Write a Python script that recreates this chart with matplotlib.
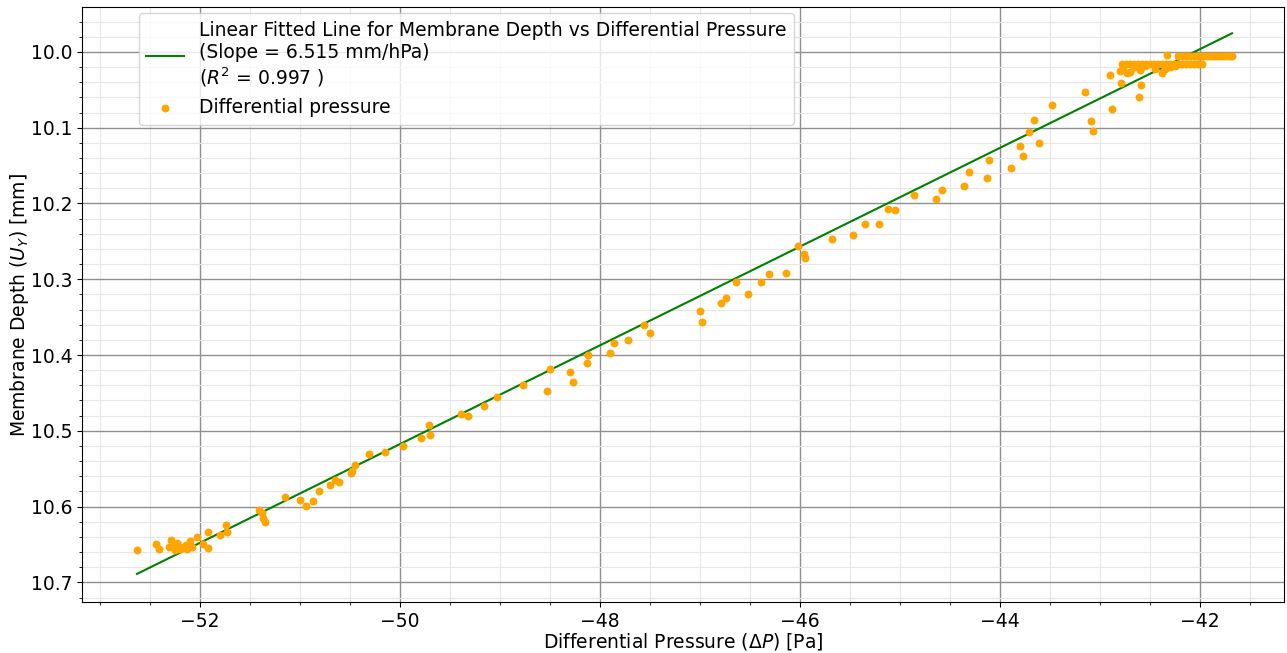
import numpy as np
import matplotlib
matplotlib.use('Agg')
import matplotlib.pyplot as plt
from matplotlib.ticker import MultipleLocator

# differential pressure [Pa] and membrane depth [mm]
dp = [-52.63, -52.44, -52.41, -52.31, -52.29, -52.27, -52.25, -52.23, -52.20, -52.17,
      -52.14, -52.13, -52.10, -52.08, -52.03, -51.97, -51.92, -51.92, -51.80, -51.74,
      -51.73, -51.41, -51.38, -51.37, -51.35, -51.15, -51.00, -50.94, -50.87, -50.81,
      -50.70, -50.65, -50.61, -50.49, -50.48, -50.45, -50.31, -50.15, -49.97, -49.79,
      -49.71, -49.70, -49.39, -49.32, -49.16, -49.03, -48.77, -48.53, -48.50, -48.30,
      -48.27, -48.12, -48.13, -47.90, -47.86, -47.72, -47.56, -47.50, -47.00, -46.98,
      -46.79, -46.74, -46.64, -46.52, -46.39, -46.31, -46.14, -46.02, -45.96, -45.95,
      -45.68, -45.47, -45.35, -45.21, -45.12, -45.05, -44.86, -44.64, -44.58, -44.36,
      -44.31, -44.13, -44.11, -43.89, -43.80, -43.77, -43.71, -43.66, -43.61, -43.48,
      -43.15, -43.09, -43.07, -42.90, -42.88, -42.80, -42.79, -42.61, -42.59]
depth = [10.657, 10.649, 10.656, 10.653, 10.644, 10.651, 10.657, 10.648, 10.656, 10.653,
         10.651, 10.656, 10.646, 10.653, 10.640, 10.649, 10.655, 10.633, 10.638, 10.624,
         10.633, 10.605, 10.609, 10.615, 10.620, 10.587, 10.591, 10.599, 10.593, 10.579,
         10.572, 10.565, 10.567, 10.556, 10.553, 10.545, 10.531, 10.528, 10.520, 10.509,
         10.493, 10.506, 10.478, 10.480, 10.467, 10.455, 10.440, 10.447, 10.418, 10.423,
         10.436, 10.400, 10.410, 10.397, 10.384, 10.380, 10.360, 10.371, 10.342, 10.356,
         10.331, 10.325, 10.304, 10.319, 10.304, 10.293, 10.292, 10.256, 10.267, 10.272,
         10.247, 10.241, 10.227, 10.227, 10.207, 10.209, 10.189, 10.194, 10.182, 10.177,
         10.158, 10.167, 10.142, 10.153, 10.124, 10.137, 10.106, 10.090, 10.120, 10.070,
         10.053, 10.091, 10.104, 10.031, 10.076, 10.025, 10.041, 10.059, 10.044]

# dense cluster near zero depth change (top right)
dp_top = [-42.33, -42.22, -42.18, -42.15, -42.12, -42.09, -42.06, -42.03, -42.00, -41.97,
          -41.94, -41.91, -41.88, -41.85, -41.82, -41.79, -41.76, -41.73, -41.70, -41.68]
depth_top = [10.004, 10.006, 10.006, 10.006, 10.006, 10.006, 10.006, 10.006, 10.006, 10.006,
             10.006, 10.006, 10.006, 10.006, 10.006, 10.006, 10.006, 10.006, 10.006, 10.006]
dp_mid = [-42.78, -42.74, -42.70, -42.66, -42.62, -42.58, -42.54, -42.50, -42.46, -42.42,
          -42.38, -42.34, -42.30, -42.26, -42.22, -42.18, -42.14, -42.10, -42.06, -42.02,
          -41.98, -42.77, -42.73, -42.70, -42.65, -42.60, -42.55, -42.45, -42.38, -42.35,
          -42.30, -42.25]
depth_mid = [10.016, 10.016, 10.016, 10.016, 10.016, 10.016, 10.016, 10.016, 10.016, 10.016,
             10.016, 10.016, 10.016, 10.016, 10.016, 10.016, 10.016, 10.016, 10.016, 10.016,
             10.016, 10.022, 10.028, 10.026, 10.020, 10.024, 10.019, 10.022, 10.028, 10.023,
             10.020, 10.018]

slope = -0.06515      # mm/Pa
intercept = 7.260     # mm
r2 = 0.997

x = np.array(dp + dp_top + dp_mid)
y = np.array(depth + depth_top + depth_mid)

fs = 13.5
fig = plt.figure(figsize=(12.87, 6.53), dpi=100)
ax = fig.add_axes([0.0637, 0.078, 0.934, 0.911])

line_x = np.array([x.min(), x.max()])
ax.plot(line_x, intercept + slope * line_x, color='green', lw=1.5,
        label='Linear Fitted Line for Membrane Depth vs Differential Pressure\n'
              '(Slope = %.3f mm/hPa)\n($R^2$ = %.3f )' % (-slope * 100, r2))
ax.scatter(x, y, s=22, color='orange', label='Differential pressure', zorder=3)

ax.set_xlim(-53.18, -41.16)
ax.set_ylim(10.726, 9.941)

ax.xaxis.set_major_locator(MultipleLocator(2))
ax.xaxis.set_minor_locator(MultipleLocator(0.5))
ax.yaxis.set_major_locator(MultipleLocator(0.1))
ax.yaxis.set_minor_locator(MultipleLocator(0.02))
ax.grid(which='major', color='#8f8f8f', lw=1.0)
ax.grid(which='minor', color='#e6e6e6', lw=0.8)
ax.tick_params(labelsize=fs)

ax.set_xlabel(r'Differential Pressure ($\Delta P$) [Pa]', fontsize=fs, labelpad=0)
ax.set_ylabel(r'Membrane Depth ($U_Y$) [mm]', fontsize=fs, labelpad=0)

ax.legend(loc='upper left', bbox_to_anchor=(0.0474, 0.99), borderaxespad=0, fontsize=fs)

fig.savefig('out.png', dpi=100)
